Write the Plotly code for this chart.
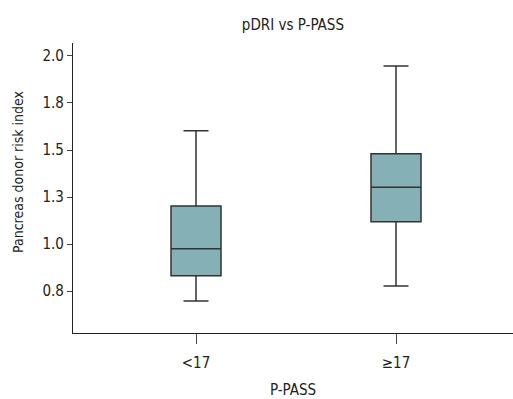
import plotly.graph_objects as go

categories = ["<17", "≥17"]
lower_whisker = [0.697, 0.777]
q1_values = [0.831, 1.119]
medians = [0.975, 1.302]
q3_values = [1.202, 1.480]
upper_whisker = [1.603, 1.947]

y_tickvals = [0.75, 1.0, 1.25, 1.5, 1.75, 2.0]
y_ticktext = ["0.8", "1.0", "1.3", "1.5", "1.8", "2.0"]

FONT = "Liberation Sans Narrow, DejaVu Sans Condensed, Arial Narrow, sans-serif"

fig = go.Figure()
fig.add_trace(go.Box(
    x=categories,
    q1=q1_values,
    median=medians,
    q3=q3_values,
    lowerfence=lower_whisker,
    upperfence=upper_whisker,
    fillcolor="#85b0b5",
    line=dict(color="#333333", width=1.5),
    width=0.25,
    whiskerwidth=0.5,
    boxpoints=False,
    showlegend=False,
))

fig.update_layout(
    width=513, height=399,
    margin=dict(l=73, r=0, t=43, b=66),
    paper_bgcolor="white", plot_bgcolor="white",
    font=dict(family=FONT, size=15, color="#222222"),
    title=dict(text="pDRI vs P-PASS", x=0.571, xanchor="center", y=0.938, yanchor="middle",
               font=dict(family=FONT, size=15, color="#222222")),
    xaxis=dict(
        type="category", range=[-0.615, 1.585],
        showline=True, linecolor="#222222", linewidth=1.2,
        ticks="outside", ticklen=10, tickcolor="#444444", tickwidth=1.2,
        ticklabelstandoff=6,
        showgrid=False, zeroline=False,
        title=dict(text="P-PASS", standoff=14, font=dict(family=FONT, size=15)),
        tickfont=dict(family=FONT, size=15),
    ),
    yaxis=dict(
        range=[0.527, 2.069],
        tickvals=y_tickvals, ticktext=y_ticktext,
        showline=True, linecolor="#222222", linewidth=1.2,
        ticks="outside", ticklen=5, tickcolor="#444444", tickwidth=1.2,
        showgrid=False, zeroline=False,
        tickfont=dict(family=FONT, size=15),
    ),
    annotations=[dict(
        text="Pancreas donor risk index", textangle=-90,
        xref="paper", yref="paper",
        x=-(73 - 18) / 440, y=1 - (172 - 43) / 290,
        xanchor="center", yanchor="middle", showarrow=False,
        font=dict(family=FONT, size=14, color="#222222"),
    )],
)

fig.write_html("out.html")
